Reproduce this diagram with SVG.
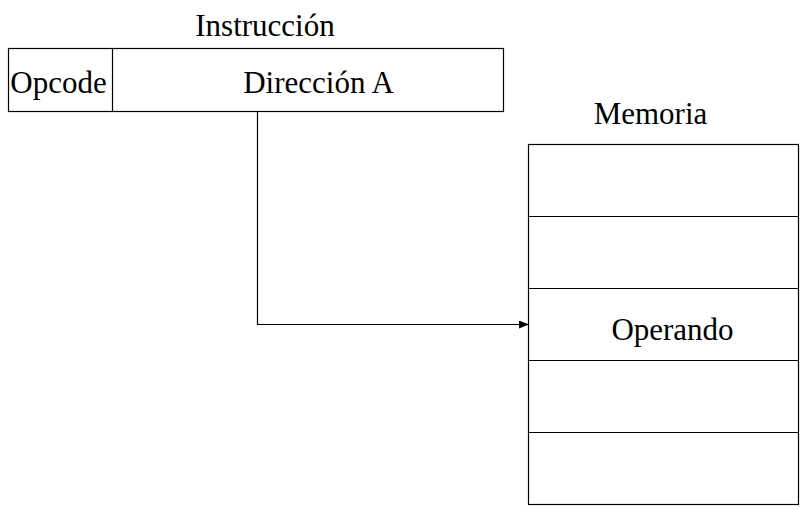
<svg xmlns="http://www.w3.org/2000/svg" width="800" height="510" viewBox="0 0 800 510">
<style>
text{font-family:"Liberation Serif","Times New Roman",serif;font-size:31px;fill:#000;text-anchor:middle}
.box{fill:#fff;stroke:#000;stroke-width:1.2}
.ln{fill:none;stroke:#000;stroke-width:1.2}
</style>
<defs>
<marker id="arr" markerWidth="10" markerHeight="8" refX="9" refY="4" orient="auto" markerUnits="userSpaceOnUse">
<path d="M0,0 L10,4 L0,8 z" fill="#000"/>
</marker>
</defs>
<rect width="800" height="510" fill="#fff"/>
<text x="265" y="36">Instrucción</text>
<g id="instruccion">
<rect class="box" x="8.5" y="48.5" width="495" height="63"/>
<line class="ln" x1="112.5" y1="48.5" x2="112.5" y2="111.5"/>
<text id="opcode" x="58.5" y="93">Opcode</text>
<text id="direccion" x="318.5" y="93">Dirección A</text>
</g>
<text x="650.5" y="124">Memoria</text>
<g id="memoria">
<rect class="box" x="528.5" y="144.5" width="270" height="360"/>
<line class="ln" x1="528.5" y1="216.5" x2="798.5" y2="216.5"/>
<line class="ln" x1="528.5" y1="288.5" x2="798.5" y2="288.5"/>
<line class="ln" x1="528.5" y1="360.5" x2="798.5" y2="360.5"/>
<line class="ln" x1="528.5" y1="432.5" x2="798.5" y2="432.5"/>
<text id="operando" x="672.5" y="340">Operando</text>
</g>
<g id="connectors">
<polyline class="ln" points="257.5,111.5 257.5,324.5 528,324.5" marker-end="url(#arr)"/>
</g>
</svg>
